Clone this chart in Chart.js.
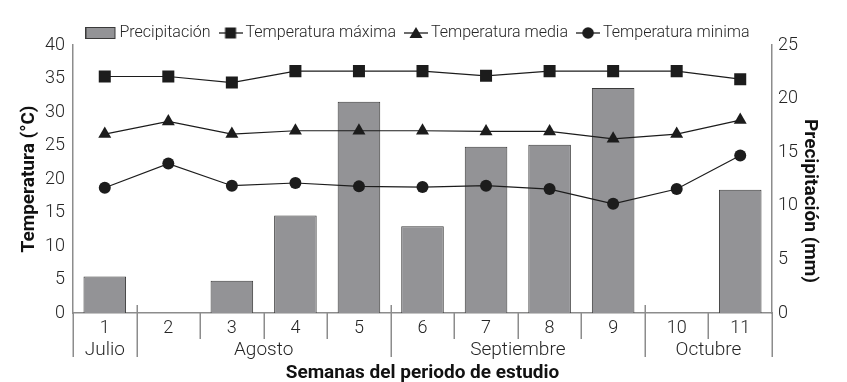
<!DOCTYPE html>
<html>
<head>
<meta charset="utf-8">
<script src="https://cdn.jsdelivr.net/npm/chart.js@4/dist/chart.umd.min.js"></script>
<style>
  html, body { margin: 0; padding: 0; background: #ffffff; }
  #wrap { width: 847px; height: 382px; position: relative; }
</style>
</head>
<body>
<div id="wrap"><canvas id="c" width="847" height="382"></canvas></div>
<script>
// ---- Data ----
const weeks = ['1', '2', '3', '4', '5', '6', '7', '8', '9', '10', '11'];
const months = ['Julio', 'Agosto', 'Septiembre', 'Octubre'];
const weeksPerMonth = [1, 4, 4, 2];
const precipitacion = [3.4, 0, 3.0, 9.1, 19.7, 8.1, 15.5, 15.7, 21.0, 0, 11.5];
const tempMaxima = [35.3, 35.3, 34.4, 36.1, 36.1, 36.1, 35.4, 36.1, 36.1, 36.1, 34.9];
const tempMedia = [26.7, 28.6, 26.7, 27.2, 27.2, 27.2, 27.1, 27.1, 26.0, 26.7, 28.8];
const tempMinima = [18.7, 22.3, 19.0, 19.4, 18.9, 18.8, 19.0, 18.5, 16.3, 18.5, 23.5];
const tempTicks = [0, 5, 10, 15, 20, 25, 30, 35, 40];
const precTicks = [0, 5, 10, 15, 20, 25];
const precTitle = 'Precipitación (mm)';

const FONT = 'Roboto';
const TEXT = '#262626';
const TITLE = '#111111';
const AXIS = '#8c8c8c';
const BAR_FILL = '#939396';
const BAR_EDGE = '#3a3a3a';
const MARK = '#1c1c1c';

// Legend symbol images
function legendBox() {
  const c = document.createElement('canvas');
  c.width = 38; c.height = 12;
  const g = c.getContext('2d');
  g.fillStyle = BAR_FILL; g.fillRect(0.5, 0.5, 29, 11);
  g.strokeStyle = BAR_EDGE; g.lineWidth = 1; g.strokeRect(0.5, 0.5, 29, 11);
  return c;
}
function legendLine(style) {
  const c = document.createElement('canvas');
  c.width = 24; c.height = 14;
  const g = c.getContext('2d');
  g.strokeStyle = MARK; g.lineWidth = 1.3;
  g.beginPath(); g.moveTo(0, 7); g.lineTo(24, 7); g.stroke();
  g.fillStyle = MARK;
  g.beginPath();
  if (style === 'rect') { g.rect(6.5, 1.5, 11, 11); }
  else if (style === 'triangle') { g.moveTo(12, 1); g.lineTo(18.5, 12); g.lineTo(5.5, 12); g.closePath(); }
  else { g.arc(12, 7, 5.8, 0, Math.PI * 2); }
  g.fill();
  return c;
}
const legendImgs = [legendBox(), legendLine('rect'), legendLine('triangle'), legendLine('circle')];

const monthPlugin = {
  id: 'monthRow',
  beforeInit(chart) {
    const fit = chart.legend.fit;
    chart.legend.fit = function () { fit.bind(chart.legend)(); this.height = 33; };
  },
  afterDraw(chart) {
    const xs = chart.scales.x;
    const ys = chart.scales.y1;
    const ctx = chart.ctx;
    const n = weeks.length;
    const half = (xs.getPixelForValue(1) - xs.getPixelForValue(0)) / 2;
    const edge = i => (i < n ? xs.getPixelForValue(i) - half : xs.getPixelForValue(n - 1) + half);
    const monthEdges = [0];
    weeksPerMonth.forEach(w => monthEdges.push(monthEdges[monthEdges.length - 1] + w));
    ctx.save();
    ctx.strokeStyle = AXIS;
    ctx.lineWidth = 1.5;
    for (let i = 0; i <= n; i++) {
      const isMonth = monthEdges.includes(i);
      const x = Math.round(edge(i)) + 0.25;
      ctx.beginPath();
      ctx.moveTo(x, xs.top - (isMonth && i > 0 && i < n ? 8 : 0));
      ctx.lineTo(x, xs.top + (isMonth ? 44 : 26));
      ctx.stroke();
    }
    ctx.fillStyle = TEXT;
    ctx.font = '300 19px ' + FONT;
    ctx.textAlign = 'center';
    ctx.textBaseline = 'middle';
    months.forEach((m, k) => {
      const cx = (edge(monthEdges[k]) + edge(monthEdges[k + 1])) / 2;
      ctx.fillText(m, cx, xs.top + 37);
    });
    // right axis title (placed like the reference, slightly below the axis centre)
    ctx.fillStyle = TITLE;
    ctx.font = 'bold 19px ' + FONT;
    ctx.translate(ys.right - 37, (ys.top + ys.bottom) / 2 + 22);
    ctx.rotate(Math.PI / 2);
    ctx.fillText(precTitle, 0, 0);
    ctx.restore();
  }
};

new Chart(document.getElementById('c'), {
  data: {
    labels: weeks,
    datasets: [
      {
        type: 'bar', label: 'Precipitación', data: precipitacion, yAxisID: 'y1', order: 1,
        backgroundColor: BAR_FILL, borderColor: BAR_EDGE, borderWidth: 1,
        barPercentage: 0.67, categoryPercentage: 1
      },
      {
        type: 'line', label: 'Temperatura máxima', data: tempMaxima, yAxisID: 'y', order: 0,
        borderColor: MARK, borderWidth: 1.2, pointStyle: 'rect', pointRadius: 8.5,
        pointBackgroundColor: MARK, pointBorderColor: MARK, pointBorderWidth: 0, tension: 0
      },
      {
        type: 'line', label: 'Temperatura media', data: tempMedia, yAxisID: 'y', order: 0,
        borderColor: MARK, borderWidth: 1.2, pointStyle: 'triangle', pointRadius: 7.5,
        pointBackgroundColor: MARK, pointBorderColor: MARK, pointBorderWidth: 0, tension: 0
      },
      {
        type: 'line', label: 'Temperatura minima', data: tempMinima, yAxisID: 'y', order: 0,
        borderColor: MARK, borderWidth: 1.2, pointStyle: 'circle', pointRadius: 6,
        pointBackgroundColor: MARK, pointBorderColor: MARK, pointBorderWidth: 0, tension: 0
      }
    ]
  },
  options: {
    responsive: false,
    animation: false,
    layout: { padding: { top: 12, left: 0, right: 0, bottom: 0 } },
    plugins: {
      tooltip: { enabled: false },
      legend: {
        position: 'top',
        labels: {
          usePointStyle: true,
          pointStyleWidth: 14,
          boxHeight: 16,
          padding: 13,
          color: TEXT,
          font: { family: FONT, size: 16, weight: '300' },
          generateLabels(chart) {
            return chart.data.datasets.map((ds, i) => ({
              text: ds.label, pointStyle: legendImgs[i], fillStyle: BAR_FILL,
              strokeStyle: MARK, lineWidth: 0, hidden: false, datasetIndex: i, fontColor: TEXT
            }));
          }
        }
      }
    },
    scales: {
      x: {
        type: 'category',
        offset: true,
        grid: { display: false, drawTicks: false },
        border: { display: true, color: AXIS, width: 1.5 },
        ticks: { color: TEXT, font: { family: FONT, size: 18, weight: '300' }, padding: 5, maxRotation: 0, autoSkip: false },
        title: {
          display: true, text: 'Semanas del periodo de estudio', color: TITLE,
          font: { family: FONT, size: 19, weight: 'bold' }, padding: { top: 0, bottom: -3 }
        },
        afterFit(s) { s.height = 69; }
      },
      y: {
        type: 'linear', position: 'left', min: 0, max: 40,
        afterBuildTicks(s) { s.ticks = tempTicks.map(v => ({ value: v })); },
        grid: { display: false, drawTicks: false },
        border: { display: true, color: AXIS, width: 1.5 },
        ticks: { color: TEXT, font: { family: FONT, size: 18, weight: '300' }, padding: 8 },
        title: {
          display: true, text: 'Temperatura (°C)', color: TITLE,
          font: { family: FONT, size: 19, weight: 'bold' }, padding: { top: 18, bottom: 0 }
        },
        afterFit(s) { s.width = 73; }
      },
      y1: {
        type: 'linear', position: 'right', min: 0, max: 25,
        afterBuildTicks(s) { s.ticks = precTicks.map(v => ({ value: v })); },
        grid: { display: false, drawTicks: false },
        border: { display: true, color: AXIS, width: 1.5 },
        ticks: { color: TEXT, font: { family: FONT, size: 18, weight: '300' }, padding: 6 },
        title: { display: false },
        afterFit(s) { s.width = 75; }
      }
    }
  },
  plugins: [monthPlugin]
});
</script>
</body>
</html>
